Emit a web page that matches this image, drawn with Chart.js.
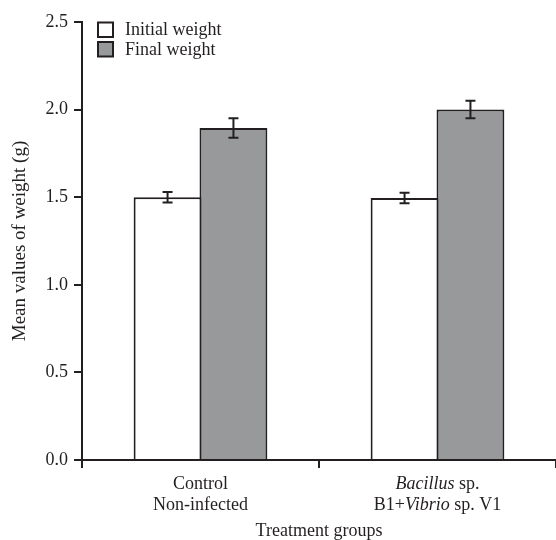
<!DOCTYPE html>
<html>
<head>
<meta charset="utf-8">
<script src="https://cdn.jsdelivr.net/npm/chart.js@4"></script>
<style>
html,body{margin:0;padding:0;background:#fff;}
#wrap{width:556px;height:540px;}
</style>
</head>
<body>
<div id="wrap"><canvas id="c" width="556" height="540"></canvas></div>
<script>
// ---- data ----
const categories = ["Control Non-infected", "Bacillus sp. B1+Vibrio sp. V1"];
// label lines, each line is a list of [text, italic] segments
const categoryLines = [
  [ [["Control", false]], [["Non-infected", false]] ],
  [ [["Bacillus", true], [" sp.", false]], [["B1+", false], ["Vibrio", true], [" sp. V1", false]] ]
];
const seriesNames = ["Initial weight", "Final weight"];
const initialWeight = [1.50, 1.495];
const finalWeight = [1.895, 2.00];
const initialErr = [0.03, 0.03];
const finalErr = [0.055, 0.05];
const yTicks = [0, 0.5, 1.0, 1.5, 2.0, 2.5];
const xTitle = "Treatment groups";
const yTitle = "Mean values of weight (g)";

const INK = "#231f20";
const GRAY = "#98999b";
const FONT = "'Liberation Serif', 'Times New Roman', serif";

const errorBars = {
  id: 'errorBars',
  afterDatasetsDraw(chart) {
    const ctx = chart.ctx;
    const ys = chart.scales.y;
    const errs = [initialErr, finalErr];
    ctx.save();
    ctx.strokeStyle = INK;
    ctx.lineWidth = 2;
    chart.data.datasets.forEach((ds, di) => {
      const meta = chart.getDatasetMeta(di);
      meta.data.forEach((el, i) => {
        const v = ds.data[i], e = errs[di][i];
        const x = el.x;
        const yt = ys.getPixelForValue(v + e), yb = ys.getPixelForValue(v - e);
        ctx.beginPath();
        ctx.moveTo(x, yt); ctx.lineTo(x, yb);
        ctx.moveTo(x - 5, yt); ctx.lineTo(x + 5, yt);
        ctx.moveTo(x - 5, yb); ctx.lineTo(x + 5, yb);
        ctx.stroke();
      });
    });
    ctx.restore();
  }
};

const customLegend = {
  id: 'customLegend',
  afterDraw(chart) {
    const ctx = chart.ctx;
    const a = chart.chartArea;
    const fills = ["#ffffff", GRAY];
    ctx.save();
    ctx.font = "18px " + FONT;
    ctx.textBaseline = "middle";
    seriesNames.forEach((name, i) => {
      const bx = a.left + 16, by = a.top + 0.5 + i * 19.5;
      ctx.fillStyle = fills[i];
      ctx.fillRect(bx, by, 15, 14.5);
      ctx.strokeStyle = INK;
      ctx.lineWidth = 2;
      ctx.strokeRect(bx, by, 15, 14.5);
      ctx.fillStyle = INK;
      ctx.fillText(name, a.left + 43, by + 8);
    });
    ctx.restore();
  }
};

const xLabels = {
  id: 'xLabels',
  afterDraw(chart) {
    const ctx = chart.ctx;
    const xs = chart.scales.x;
    ctx.save();
    ctx.fillStyle = INK;
    ctx.textBaseline = "middle";
    categoryLines.forEach((lines, ci) => {
      const cx = xs.getPixelForValue(ci);
      lines.forEach((segs, li) => {
        let total = 0;
        segs.forEach(s => { ctx.font = (s[1] ? "italic " : "") + "18px " + FONT; total += ctx.measureText(s[0]).width; });
        let x = cx - total / 2;
        const y = xs.top + 24 + li * 21;
        ctx.textAlign = "left";
        segs.forEach(s => {
          ctx.font = (s[1] ? "italic " : "") + "18px " + FONT;
          ctx.fillText(s[0], x, y);
          x += ctx.measureText(s[0]).width;
        });
      });
    });
    ctx.restore();
  }
};

new Chart(document.getElementById('c'), {
  type: 'bar',
  data: {
    labels: categories,
    datasets: [
      { label: seriesNames[0], data: initialWeight, backgroundColor: "#ffffff", borderColor: INK, borderWidth: 2, borderSkipped: 'bottom' },
      { label: seriesNames[1], data: finalWeight, backgroundColor: GRAY, borderColor: INK, borderWidth: 2, borderSkipped: 'bottom' }
    ]
  },
  options: {
    responsive: false,
    animation: false,
    events: [],
    layout: { padding: { top: 22, right: 0, bottom: 0, left: 0 } },
    datasets: { bar: { categoryPercentage: 0.556, barPercentage: 1.03 } },
    plugins: { legend: { display: false }, tooltip: { enabled: false } },
    scales: {
      x: {
        offset: true,
        grid: { display: true, drawOnChartArea: false, drawTicks: true, tickLength: 8, color: INK, lineWidth: 2, offset: true },
        border: { display: true, color: INK, width: 2 },
        ticks: { display: false },
        title: { display: true, text: xTitle, color: INK, font: { family: FONT, size: 18, lineHeight: 1.0 }, padding: { top: 0, bottom: 0 } },
        afterFit(s) { s.height = 80; }
      },
      y: {
        min: 0, max: 2.5,
        afterBuildTicks(s) { s.ticks = yTicks.map(v => ({ value: v })); },
        grid: { display: true, drawOnChartArea: false, drawTicks: true, tickLength: 8, color: INK, lineWidth: 2 },
        border: { display: true, color: INK, width: 2 },
        ticks: { color: INK, font: { family: FONT, size: 18 }, padding: 6, callback: v => Number(v).toFixed(1) },
        title: { display: true, text: yTitle, color: INK, font: { family: FONT, size: 19 }, padding: { top: 9, bottom: 0 } },
        afterFit(s) { s.width = 82; }
      }
    }
  },
  plugins: [errorBars, customLegend, xLabels]
});
</script>
</body>
</html>
